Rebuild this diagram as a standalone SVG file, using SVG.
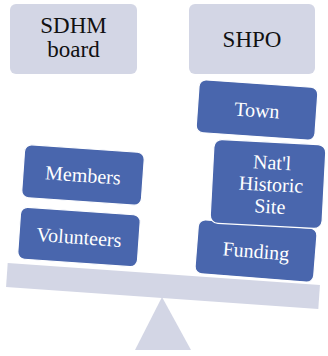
<svg xmlns="http://www.w3.org/2000/svg" width="328" height="356" viewBox="0 0 328 356">
<style>
.gray{fill:#d3d6e5;}
.head{fill:#d3d6e5;}
.blue{fill:#4966ad;stroke:#ffffff;stroke-width:1.2;}
.ht{font-family:"Liberation Serif","Times New Roman",serif;font-size:23px;fill:#111111;text-anchor:middle;}
.bt{font-family:"Liberation Serif","Times New Roman",serif;font-size:20px;fill:#ffffff;text-anchor:middle;}
</style>
<g id="fulcrum"><polygon class="gray" points="162,297 135,350 191,350"/></g>
<g id="beam"><rect class="gray" x="-156.5" y="-12" width="313" height="24" transform="translate(163,286) rotate(4)"/></g>
<g id="sdhm"><rect class="head" x="10" y="4" width="127" height="70" rx="6"/><text class="ht" x="73.5" y="33">SDHM</text><text class="ht" x="73.5" y="57">board</text></g>
<g id="shpo"><rect class="head" x="189" y="4" width="126" height="70" rx="6"/><text class="ht" x="252" y="47">SHPO</text></g>
<g id="volunteers" transform="translate(79,237) rotate(4)"><rect class="blue" x="-60" y="-26" width="120" height="52" rx="7"/><text class="bt" x="0" y="7">Volunteers</text></g>
<g id="members" transform="translate(83,175) rotate(4)"><rect class="blue" x="-60" y="-26.5" width="120" height="53" rx="7"/><text class="bt" x="0" y="7">Members</text></g>
<g id="funding" transform="translate(256,251) rotate(4.5)"><rect class="blue" x="-59.5" y="-27" width="119" height="54" rx="7"/><text class="bt" x="0" y="7">Funding</text></g>
<g id="natl" transform="translate(268,184) rotate(3)"><rect class="blue" x="-56" y="-42" width="112" height="84" rx="8"/><text class="bt" x="3" y="-15">Nat'l</text><text class="bt" x="3" y="7">Historic</text><text class="bt" x="3" y="29">Site</text></g>
<g id="town" transform="translate(257,110) rotate(4)"><rect class="blue" x="-59.5" y="-26.5" width="119" height="53" rx="7"/><text class="bt" x="0" y="7">Town</text></g>
<g id="connectors"></g>
</svg>
